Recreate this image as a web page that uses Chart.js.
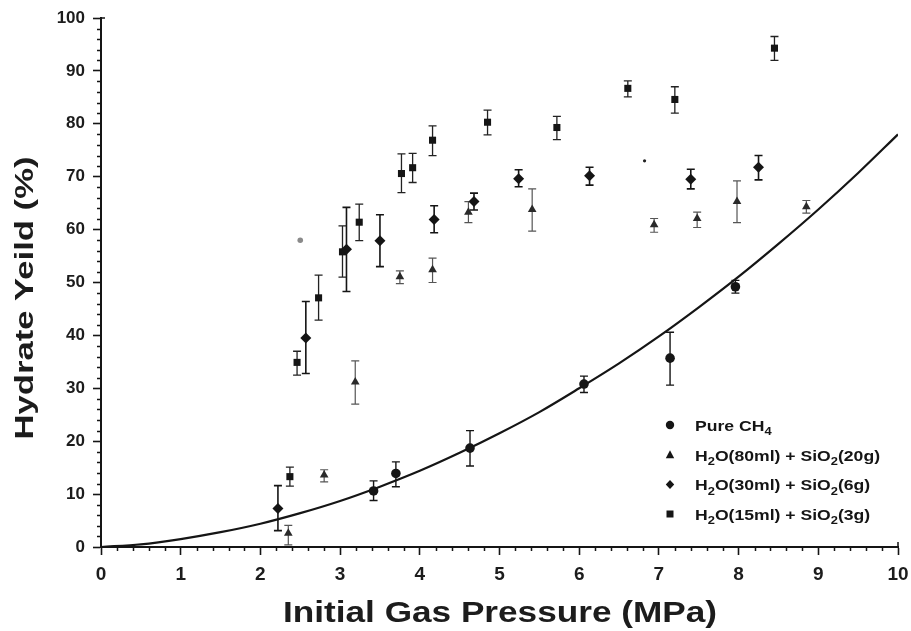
<!DOCTYPE html>
<html><head><meta charset="utf-8">
<script src="https://cdn.jsdelivr.net/npm/chart.js@4.4.1/dist/chart.umd.min.js"></script>
<style>html,body{margin:0;padding:0;background:#fff}#wrap{width:911px;height:631px}</style>
</head><body><div id="wrap"><canvas id="c" width="911" height="631"></canvas></div>
<script>
// ---------- data ----------
const pureX  = [3.42, 3.70, 4.63, 6.06, 7.14, 7.96];
const pureY  = [10.6, 13.9, 18.7, 30.8, 35.7, 49.2];
const pureLo = [8.8, 11.4, 15.3, 29.2, 30.6, 48.0];
const pureHi = [12.5, 16.1, 22.0, 32.3, 40.6, 50.4];

const tri80X  = [2.35, 2.80, 3.19, 3.75, 4.16, 4.61, 5.41, 6.94, 7.48, 7.98, 8.85];
const tri80Y  = [2.6, 13.6, 31.2, 51.1, 52.4, 63.3, 63.8, 60.9, 62.1, 65.3, 64.3];
const tri80Lo = [0.4, 12.3, 27.0, 49.8, 50.0, 61.3, 59.7, 59.5, 60.4, 61.3, 63.1];
const tri80Hi = [4.1, 14.6, 35.2, 52.2, 54.6, 65.3, 67.7, 62.1, 63.3, 69.2, 65.5];

const dia30X  = [2.22, 2.57, 3.08, 3.50, 4.18, 4.68, 5.24, 6.13, 7.40, 8.25];
const dia30Y  = [7.3, 39.5, 56.3, 57.9, 61.9, 65.3, 69.6, 70.2, 69.5, 71.8];
const dia30Lo = [3.1, 32.8, 48.3, 53.0, 59.4, 63.7, 68.1, 68.4, 67.7, 69.4];
const dia30Hi = [11.6, 46.4, 64.2, 62.8, 64.5, 66.9, 71.3, 71.8, 71.4, 74.0];

const sq15X  = [2.37, 2.46, 2.73, 3.03, 3.24, 3.77, 3.91, 4.16, 4.85, 5.72, 6.61, 7.20, 8.45];
const sq15Y  = [13.3, 34.9, 47.1, 55.8, 61.4, 70.6, 71.7, 76.9, 80.3, 79.3, 86.7, 84.6, 94.3];
const sq15Lo = [11.5, 32.5, 42.9, 51.0, 57.9, 67.0, 68.9, 74.0, 77.9, 77.0, 85.1, 82.0, 92.0];
const sq15Hi = [15.1, 37.0, 51.4, 60.7, 64.8, 74.3, 74.4, 79.6, 82.6, 81.4, 88.1, 87.0, 96.5];

// fitted curve for pure CH4
const curveX = [0, 0.5, 1, 1.5, 2, 2.5, 3, 3.5, 4, 4.5, 5, 5.5, 6, 6.5, 7, 7.5, 8, 8.5, 9, 9.5, 10];
const curveY = [0, 0.5, 1.5, 2.8, 4.4, 6.4, 8.7, 11.4, 14.4, 17.8, 21.5, 25.5, 30.0, 34.7, 39.8, 45.3, 51.1, 57.3, 63.8, 70.7, 78.0];

// stray scan marks
const markX = [2.50, 6.82];
const markY = [58.0, 73.0];

const xTickValues = [0,1,2,3,4,5,6,7,8,9,10];
const yTickValues = [0,10,20,30,40,50,60,70,80,90,100];

const xTitle = 'Initial Gas Pressure (MPa)';
const yTitle = 'Hydrate Yeild (%)';
const legendItems = [
  {style:'circle',   segs:[['Pure CH',0],['4',1]]},
  {style:'triangle', segs:[['H',0],['2',1],['O(80ml) + SiO',0],['2',1],['(20g)',0]]},
  {style:'rectRot',  segs:[['H',0],['2',1],['O(30ml) + SiO',0],['2',1],['(6g)',0]]},
  {style:'rect',     segs:[['H',0],['2',1],['O(15ml) + SiO',0],['2',1],['(3g)',0]]}
];

// ---------- drawing ----------
const FONT = '"Liberation Sans", Arial, Helvetica, sans-serif';
const INK = '#151515';
const pts = (xs, ys) => xs.map((x, i) => ({x: x, y: ys[i]}));

function drawMarker(ctx, style, x, y, r) {
  ctx.beginPath();
  if (style === 'circle') { ctx.arc(x, y, r, 0, Math.PI * 2); }
  else if (style === 'triangle') {
    ctx.moveTo(x, y - r * 1.15); ctx.lineTo(x + r, y + r * 0.75); ctx.lineTo(x - r, y + r * 0.75); ctx.closePath();
  } else if (style === 'rectRot') {
    ctx.moveTo(x, y - r * 1.1); ctx.lineTo(x + r, y); ctx.lineTo(x, y + r * 1.1); ctx.lineTo(x - r, y); ctx.closePath();
  } else { ctx.rect(x - r, y - r, 2 * r, 2 * r); }
  ctx.fill();
}

const extras = {
  id: 'extras',
  beforeDatasetsDraw(chart) {
    const ctx = chart.ctx, xs = chart.scales.x, ys = chart.scales.y;
    chart.data.datasets.forEach(ds => {
      if (!ds.errLo) return;
      ctx.save();
      ctx.strokeStyle = ds.errColor; ctx.lineWidth = ds.errWidth;
      ds.data.forEach((p, i) => {
        const px = xs.getPixelForValue(p.x);
        const lo = ys.getPixelForValue(ds.errLo[i]);
        const hi = ys.getPixelForValue(ds.errHi[i]);
        ctx.beginPath();
        ctx.moveTo(px, lo); ctx.lineTo(px, hi);
        ctx.moveTo(px - 4, lo); ctx.lineTo(px + 4, lo);
        ctx.moveTo(px - 4, hi); ctx.lineTo(px + 4, hi);
        ctx.stroke();
      });
      ctx.restore();
    });
  },
  afterDraw(chart) {
    const ctx = chart.ctx, xs = chart.scales.x, ys = chart.scales.y, a = chart.chartArea;
    ctx.save();
    // minor ticks
    ctx.strokeStyle = INK; ctx.lineWidth = 1.5;
    ctx.beginPath();
    for (let k = 0; k <= 50; k++) {
      if (k % 5 === 0) continue;
      const px = Math.round(xs.getPixelForValue(k * 0.2)) + 0.5;
      ctx.moveTo(px, a.bottom); ctx.lineTo(px, a.bottom + 4);
    }
    for (let k = 0; k <= 50; k++) {
      if (k % 5 === 0) continue;
      const py = Math.round(ys.getPixelForValue(k * 2)) + 0.5;
      ctx.moveTo(a.left - 4, py); ctx.lineTo(a.left, py);
    }
    // end caps
    ctx.moveTo(a.left, a.top); ctx.lineTo(a.left + 4, a.top);
    ctx.moveTo(a.right, a.bottom); ctx.lineTo(a.right, a.bottom - 5);
    ctx.stroke();

    // axis titles (wide lettering as in the scan)
    ctx.fillStyle = '#1c1c1c';
    ctx.textAlign = 'center'; ctx.textBaseline = 'alphabetic';
    ctx.font = 'bold 30px ' + FONT;
    let w = ctx.measureText(xTitle).width;
    ctx.save(); ctx.translate(500, 622); ctx.scale(434 / w, 1); ctx.fillText(xTitle, 0, 0); ctx.restore();
    ctx.font = 'bold 25px ' + FONT;
    w = ctx.measureText(yTitle).width;
    ctx.save(); ctx.translate(33, 298); ctx.rotate(-Math.PI / 2); ctx.scale(283 / w, 1); ctx.fillText(yTitle, 0, 0); ctx.restore();

    // legend
    const rows = [425, 455, 484.5, 514];
    const base = 'bold 15px ' + FONT, sub = 'bold 11px ' + FONT;
    const natural = it => it.segs.reduce((s, g) => { ctx.font = g[1] ? sub : base; return s + ctx.measureText(g[0]).width; }, 0);
    const sx = 185 / natural(legendItems[1]);
    ctx.textAlign = 'left';
    legendItems.forEach((it, i) => {
      ctx.fillStyle = INK;
      drawMarker(ctx, it.style, 670, rows[i], it.style === 'rect' ? 3.5 : 4.2);
      ctx.save(); ctx.translate(695, rows[i] + 5.5); ctx.scale(sx, 1);
      let cx = 0;
      it.segs.forEach(g => {
        ctx.font = g[1] ? sub : base;
        ctx.fillText(g[0], cx, g[1] ? 4.5 : 0);
        cx += ctx.measureText(g[0]).width;
      });
      ctx.restore();
    });
    ctx.restore();
  }
};

const ctx = document.getElementById('c').getContext('2d');
new Chart(ctx, {
  type: 'scatter',
  data: {
    datasets: [
      {label: 'fit', type: 'line', data: pts(curveX, curveY), borderColor: INK, borderWidth: 2.2,
       pointRadius: 0, cubicInterpolationMode: 'monotone', fill: false, order: 5},
      {label: 'Pure CH4', data: pts(pureX, pureY), pointStyle: 'circle', pointRadius: 4.8,
       backgroundColor: INK, borderColor: INK, borderWidth: 0, errLo: pureLo, errHi: pureHi, errColor: INK, errWidth: 1.4},
      {label: 'H2O(80ml) + SiO2(20g)', data: pts(tri80X, tri80Y), pointStyle: 'triangle', pointRadius: 5,
       backgroundColor: '#2a2a2a', borderColor: '#2a2a2a', borderWidth: 0, errLo: tri80Lo, errHi: tri80Hi, errColor: '#555', errWidth: 1.2},
      {label: 'H2O(30ml) + SiO2(6g)', data: pts(dia30X, dia30Y), pointStyle: 'rectRot', pointRadius: 5.5,
       backgroundColor: INK, borderColor: INK, borderWidth: 0, errLo: dia30Lo, errHi: dia30Hi, errColor: INK, errWidth: 1.6},
      {label: 'H2O(15ml) + SiO2(3g)', data: pts(sq15X, sq15Y), pointStyle: 'rect', pointRadius: 5,
       backgroundColor: INK, borderColor: INK, borderWidth: 0, errLo: sq15Lo, errHi: sq15Hi, errColor: '#222', errWidth: 1.3},
      {label: 'marks', data: pts(markX, markY), pointStyle: 'circle', pointRadius: [2.8, 1.6],
       backgroundColor: ['#8a8a8a', '#222'], borderWidth: 0}
    ]
  },
  options: {
    responsive: false, animation: false, devicePixelRatio: 1,
    layout: {padding: {top: 18, right: 13, left: 0, bottom: 0}},
    plugins: {legend: {display: false}, tooltip: {enabled: false}},
    scales: {
      x: {
        type: 'linear', min: 0, max: 10,
        afterBuildTicks: s => { s.ticks = xTickValues.map(v => ({value: v})); },
        afterFit: s => { s.height = 84; s.paddingLeft = 0; s.paddingRight = 0; },
        border: {display: true, color: INK, width: 2},
        grid: {drawOnChartArea: false, drawTicks: true, tickLength: 8, tickColor: INK, tickWidth: 1.6},
        ticks: {padding: 8, color: '#1c1c1c', font: {family: FONT, size: 19, weight: 'bold'}, maxRotation: 0, autoSkip: false}
      },
      y: {
        type: 'linear', min: 0, max: 100,
        afterBuildTicks: s => { s.ticks = yTickValues.map(v => ({value: v})); },
        afterFit: s => { s.width = 101; s.paddingTop = 0; s.paddingBottom = 0; },
        border: {display: true, color: INK, width: 2},
        grid: {drawOnChartArea: false, drawTicks: true, tickLength: 8, tickColor: INK, tickWidth: 1.6},
        ticks: {padding: 8, color: '#1c1c1c', font: {family: FONT, size: 17, weight: 'bold'}, autoSkip: false}
      }
    }
  },
  plugins: [extras]
});
</script></body></html>
